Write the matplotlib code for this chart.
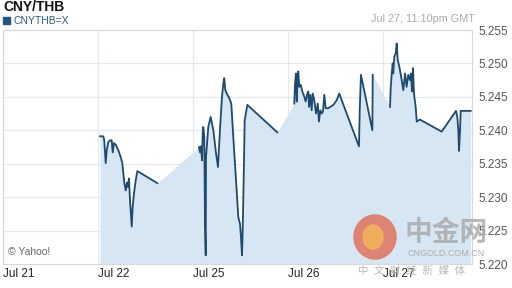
import matplotlib.pyplot as plt
from matplotlib.patches import Ellipse

# x is the trading-day position (0 = Jul 21, 1 = Jul 22, 2 = Jul 25, ...)
day_labels = ['Jul 21', 'Jul 22', 'Jul 25', 'Jul 26', 'Jul 27']
y_ticks = [5.220, 5.225, 5.230, 5.235, 5.240, 5.245, 5.250, 5.255]

jul22_x = [1.021, 1.056, 1.066, 1.081, 1.092, 1.108, 1.126, 1.144, 1.155, 1.168,
           1.189, 1.214, 1.239, 1.256, 1.277, 1.292, 1.305, 1.316, 1.326, 1.337,
           1.355, 1.365, 1.379, 1.397, 1.414, 1.624]
jul22_y = [5.2391, 5.2391, 5.2385, 5.2351, 5.2370, 5.2382, 5.2385, 5.2385, 5.2367, 5.2381,
           5.2378, 5.2370, 5.2360, 5.2351, 5.2321, 5.2310, 5.2322, 5.2315, 5.2328, 5.2295,
           5.2256, 5.2285, 5.2306, 5.2325, 5.2339, 5.2321]

jul25_x = [2.063, 2.074, 2.084, 2.095, 2.102, 2.108, 2.119, 2.126, 2.134, 2.137,
           2.161, 2.186, 2.214, 2.242, 2.263, 2.274, 2.292, 2.305, 2.319, 2.329,
           2.340, 2.355, 2.382, 2.403, 2.424, 2.453, 2.477, 2.495, 2.505, 2.516,
           2.523, 2.537, 2.544, 2.572, 2.887]
jul25_y = [5.2375, 5.2367, 5.2376, 5.2355, 5.2396, 5.2405, 5.2390, 5.2260, 5.2213, 5.2360,
           5.2405, 5.2420, 5.2400, 5.2366, 5.2345, 5.2375, 5.2420, 5.2450, 5.2470, 5.2478,
           5.2460, 5.2455, 5.2448, 5.2440, 5.2390, 5.2325, 5.2270, 5.2260, 5.2240, 5.2213,
           5.2250, 5.2355, 5.2415, 5.2438, 5.2397]

jul26_x = [3.066, 3.074, 3.084, 3.092, 3.102, 3.108, 3.119, 3.134, 3.151, 3.172,
           3.186, 3.200, 3.214, 3.221, 3.235, 3.249, 3.260, 3.277, 3.295, 3.313,
           3.326, 3.340, 3.355, 3.368, 3.382, 3.397, 3.424, 3.477, 3.513, 3.540,
           3.565, 3.747, 3.755, 3.768, 3.888, 3.892]
jul26_y = [5.2440, 5.2470, 5.2485, 5.2443, 5.2475, 5.2488, 5.2465, 5.2468, 5.2458, 5.2450,
           5.2443, 5.2453, 5.2458, 5.2435, 5.2453, 5.2430, 5.2455, 5.2445, 5.2425, 5.2440,
           5.2413, 5.2430, 5.2425, 5.2428, 5.2453, 5.2433, 5.2433, 5.2438, 5.2445, 5.2455,
           5.2445, 5.2376, 5.2430, 5.2483, 5.2400, 5.2483]

jul27_x = [4.074, 4.081, 4.092, 4.102, 4.108, 4.119, 4.134, 4.144, 4.155, 4.172,
           4.197, 4.214, 4.232, 4.249, 4.266, 4.284, 4.295, 4.305, 4.316, 4.323,
           4.330, 4.344, 4.355, 4.389, 4.618, 4.768, 4.782, 4.793, 4.800, 4.811,
           4.818, 4.923]
jul27_y = [5.2435, 5.2463, 5.2485, 5.2500, 5.2485, 5.2510, 5.2515, 5.2530, 5.2505, 5.2495,
           5.2475, 5.2460, 5.2485, 5.2465, 5.2483, 5.2475, 5.2485, 5.2458, 5.2493, 5.2465,
           5.2450, 5.2435, 5.2413, 5.2416, 5.2398, 5.2429, 5.2420, 5.2400, 5.2369, 5.2400,
           5.2429, 5.2429]

segments = [(jul22_x, jul22_y), (jul25_x, jul25_y), (jul26_x, jul26_y), (jul27_x, jul27_y)]

line_color = '#1f4a6e'
fill_color = '#d6e6f2'
grid_color = '#e2e8ee'

fig = plt.figure(figsize=(5.12, 2.88), dpi=100)
plt.rcParams['font.family'] = ['Liberation Sans', 'Noto Sans CJK SC', 'DejaVu Sans']
ax = fig.add_axes([3 / 512, 24 / 288, 469 / 512, 234 / 288])

# the fill bridges the gaps, the line does not
all_x = [x for seg in segments for x in seg[0]]
all_y = [y for seg in segments for y in seg[1]]
ax.fill_between(all_x, all_y, 5.210, color=fill_color, linewidth=0, zorder=1)
for sx, sy in segments:
    ax.plot(sx, sy, color=line_color, linewidth=1.3, zorder=3)

ax.set_xlim(0, 469 / 95)
ax.set_ylim(5.220, 5.255)
ax.set_xticks(range(len(day_labels)))
ax.set_xticklabels(day_labels, ha='left', fontsize=8.5, color='#222222')
ax.yaxis.tick_right()
ax.set_yticks(y_ticks)
ax.set_yticklabels(['%.3f' % v for v in y_ticks], fontsize=8.5, color='#555555')
ax.tick_params(length=0, pad=5)
ax.tick_params(axis='x', pad=3)
ax.grid(True, color=grid_color, linewidth=0.9, zorder=0)
ax.set_axisbelow(True)
for s in ax.spines.values():
    s.set_color('#d8d8d8')
    s.set_linewidth(0.8)

fig.text(3 / 512, 1 - 7 / 288, 'CNY/THB', fontsize=10, fontweight='bold', color='#111111', va='center')
fig.patches.append(plt.Rectangle((3 / 512, 1 - 24 / 288), 7 / 512, 7 / 288, color='#1f5585',
                                 transform=fig.transFigure, figure=fig))
fig.text(13 / 512, 1 - 20.5 / 288, 'CNYTHB=X', fontsize=7.5, color='#2a5a88', va='center')
fig.text(475 / 512, 1 - 19 / 288, 'Jul 27, 11:10pm GMT', fontsize=7.8, color='#aaaaaa', va='center', ha='right')
ax.text(0.01, 0.04, '© Yahoo!', transform=ax.transAxes, fontsize=7.5, color='#666666')

# watermark
fig.patches.append(Ellipse((375 / 512, 1 - 237 / 288), 42 / 512, 44 / 288, color='#e07a68', alpha=0.9,
                           transform=fig.transFigure, figure=fig))
fig.patches.append(Ellipse((373 / 512, 1 - 237 / 288), 20 / 512, 24 / 288, color='#f2b25a', alpha=0.9,
                           transform=fig.transFigure, figure=fig))
fig.text(405 / 512, 1 - 234 / 288, '中金网', fontsize=20, fontweight='bold', color='#a8a8a8', alpha=0.8, va='center')
fig.text(408 / 512, 1 - 253 / 288, 'CNGOLD.COM.CN', fontsize=6.5, color='#b0b0b0', va='center')
fig.text(358 / 512, 1 - 271 / 288, '中  文  财  经  新  媒  体', fontsize=7.5, color='#b8b8b8', va='center')

plt.savefig('out.png', dpi=100)
